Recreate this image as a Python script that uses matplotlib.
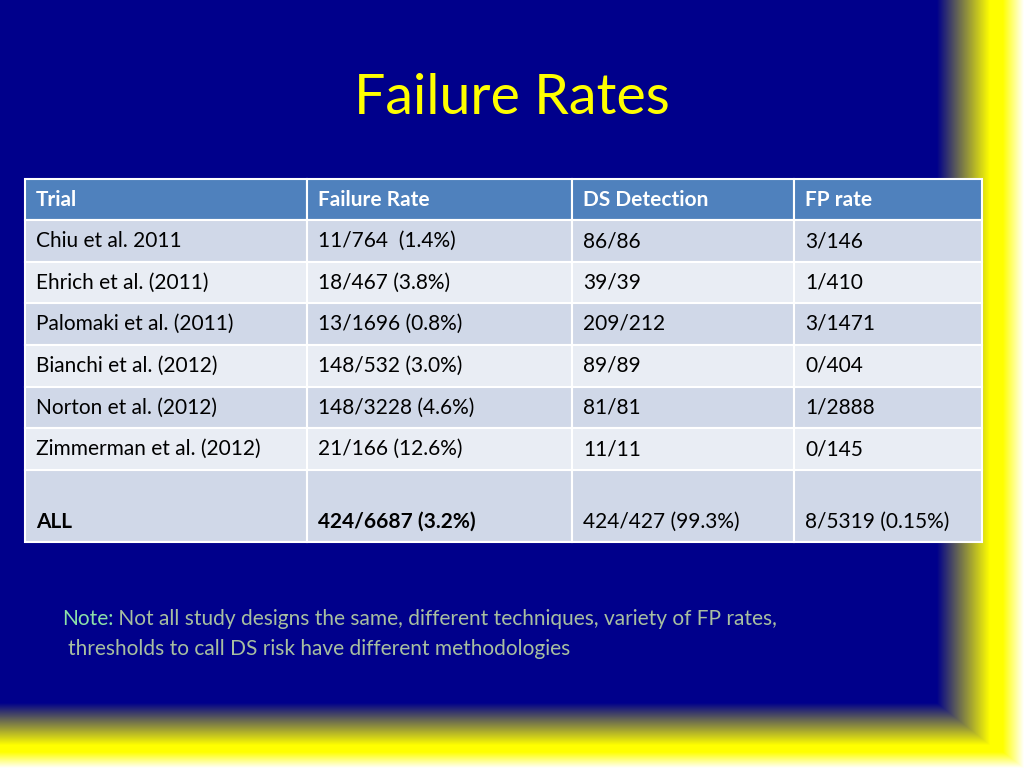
import numpy as np
import matplotlib
matplotlib.use("Agg")
import matplotlib.pyplot as plt
from matplotlib.patches import Rectangle

title = "Failure Rates"
headers = ["Trial", "Failure Rate", "DS Detection", "FP rate"]
trials = ["Chiu et al. 2011", "Ehrich et al. (2011)", "Palomaki et al. (2011)",
          "Bianchi et al. (2012)", "Norton et al. (2012)", "Zimmerman et al. (2012)", "ALL"]
failure = ["11/764  (1.4%)", "18/467 (3.8%)", "13/1696 (0.8%)", "148/532 (3.0%)",
           "148/3228 (4.6%)", "21/166 (12.6%)", "424/6687 (3.2%)"]
detection = ["86/86", "39/39", "209/212", "89/89", "81/81", "11/11", "424/427 (99.3%)"]
fp_rate = ["3/146", "1/410", "3/1471", "0/404", "1/2888", "0/145", "8/5319 (0.15%)"]
note_label = "Note:"
note_text = " Not all study designs the same, different techniques, variety of FP rates,"
note_text2 = "thresholds to call DS risk have different methodologies"

W, H = 1024, 768
fig = plt.figure(figsize=(10.24, 7.68), dpi=100)
ax = fig.add_axes([0, 0, 1, 1])
ax.set_xlim(0, W); ax.set_ylim(H, 0); ax.axis("off")

# background gradient
xs = np.arange(W)[None, :] + 0.5
ys = np.arange(H)[:, None] + 0.5
tr = np.clip((xs - 937) / 53, 0, 1) + 0 * ys
tb = np.clip((ys - 703) / 42, 0, 1) + 0 * xs
t = np.maximum(tr, tb)
wr = np.clip((xs - 1003) / 21, 0, 1) + 0 * ys
wb = np.clip((ys - 752) / 16, 0, 1) + 0 * xs
w = np.maximum(wr, wb)
blue = np.array([0, 0, 139]) / 255
yellow = np.array([1, 1, 0])
white = np.array([1, 1, 1])
img = blue * (1 - t[..., None]) + yellow * t[..., None]
img = img * (1 - w[..., None]) + white * w[..., None]
ax.imshow(img, extent=(0, W, H, 0), aspect="auto", zorder=0)

font = "Lato"
ax.text(512, 98, title, color="#FFFF00", fontsize=40, ha="center", va="center", family=font)

cols = [25, 307, 572, 794, 982]
rows_y = [179, 220, 262, 303, 345, 387, 428, 470, 542]
data = [trials, failure, detection, fp_rate]
for r in range(len(rows_y) - 1):
    y0, y1 = rows_y[r], rows_y[r + 1]
    if r == 0:
        fc = "#4F81BD"
    else:
        fc = "#D0D8E8" if r % 2 == 1 else "#E9EDF4"
    for c in range(4):
        ax.add_patch(Rectangle((cols[c], y0), cols[c + 1] - cols[c], y1 - y0,
                               facecolor=fc, edgecolor="white", lw=1.5, zorder=2))
        if r == 0:
            txt, col, wt = headers[c], "white", "bold"
            ty = (y0 + y1) / 2
        else:
            txt, col = data[c][r - 1], "black"
            last = r == len(rows_y) - 2
            wt = "bold" if last and c < 2 else "normal"
            ty = 522 if last else (y0 + y1) / 2
        ax.text(cols[c] + 11, ty, txt, color=col, fontsize=15, fontweight=wt,
                ha="left", va="center", family=font, zorder=3)

t1 = ax.text(62, 619, note_label, color="#8CE0A8", fontsize=15, ha="left", va="center", family=font)
fig.canvas.draw()
bb = t1.get_window_extent()
ax.text(62 + bb.width, 619, note_text, color="#A8BFA0", fontsize=15, ha="left", va="center", family=font)
ax.text(68, 649, note_text2, color="#A8BFA0", fontsize=15, ha="left", va="center", family=font)

fig.savefig("out.png", dpi=100)
